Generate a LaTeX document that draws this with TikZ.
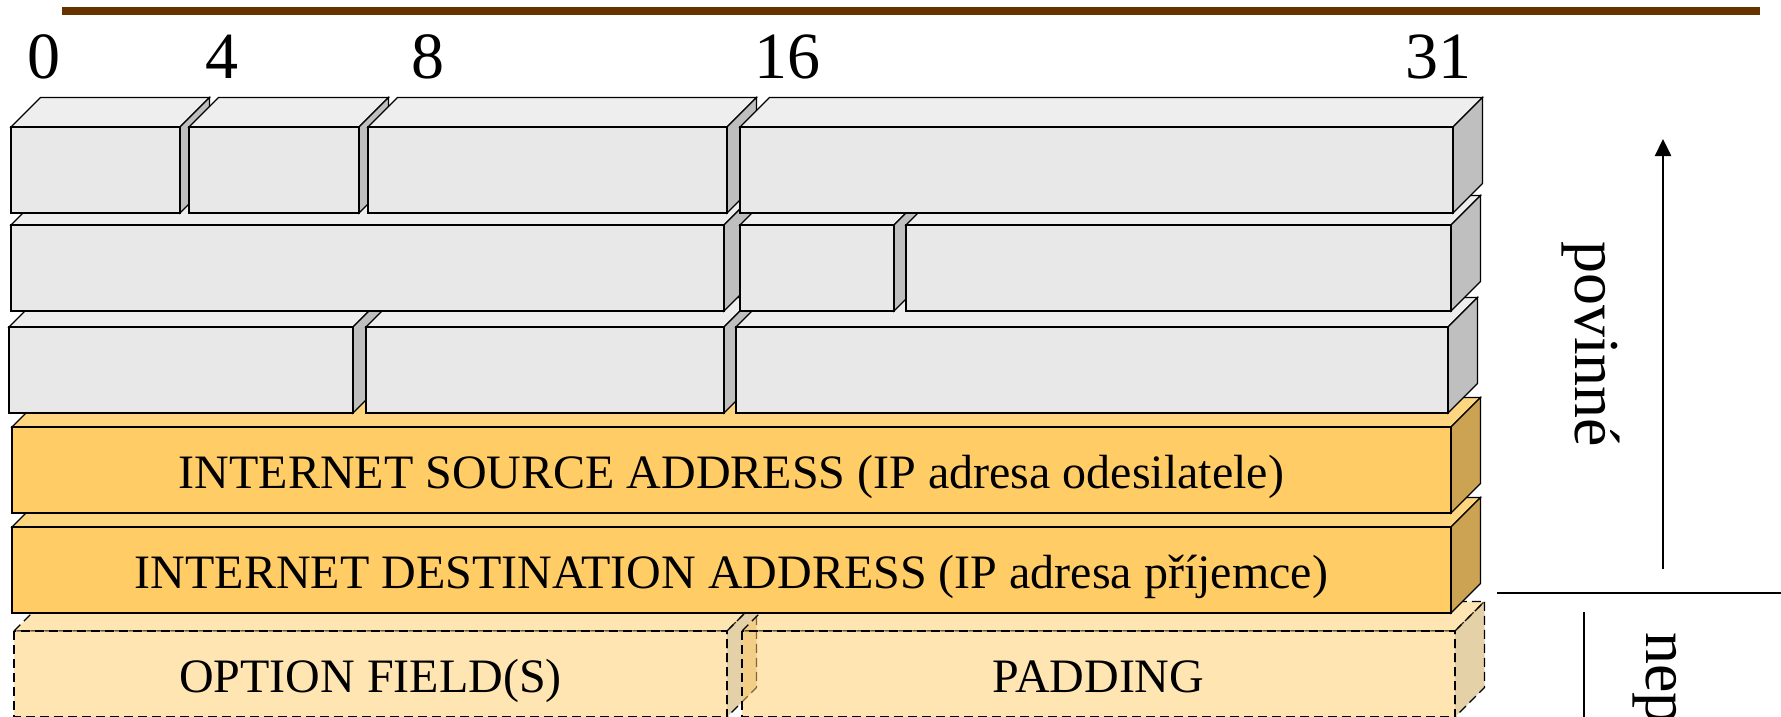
\documentclass[tikz,border=0pt]{standalone}
\usepackage{fontspec}
\setmainfont{Liberation Serif}
\usetikzlibrary{arrows.meta}

\definecolor{rulebrown}{HTML}{663300}
\definecolor{grayfront}{HTML}{E8E8E8}
\definecolor{graytop}{HTML}{EEEEEE}
\definecolor{grayside}{HTML}{BFBFBF}
\definecolor{orfront}{HTML}{FFCC66}
\definecolor{ortop}{HTML}{FFD680}
\definecolor{orside}{HTML}{CCA352}

% depth of the oblique projection (in px units)
\def\dd{29.5}

% \brick{name}{x1}{y1}{x2}{y2}{kind}{label}
% front face from (x1,y1) to (x2,y2), with top and right faces behind it
\newcommand\brick[7]{%
  \filldraw[#6top] (#2,#3) -- (#2+\dd,#3-\dd) -- (#4+\dd,#3-\dd) -- (#4,#3) -- cycle;
  \filldraw[#6side] (#4,#3) -- (#4+\dd,#3-\dd) -- (#4+\dd,#5-\dd) -- (#4,#5) -- cycle;
  \filldraw[#6front] (#2,#3) rectangle (#4,#5);
  \node[boxlabel] (#1) at ({(#2+#4)/2},#5-25) {#7};
}

\tikzset{
  outline/.style={draw=black, line width=1.3pt, line join=miter},
  gtop/.style={outline, fill=graytop},
  gside/.style={outline, fill=grayside},
  gfront/.style={outline, fill=grayfront},
  otop/.style={outline, fill=ortop},
  oside/.style={outline, fill=orside},
  ofront/.style={outline, fill=orfront},
  dashbox/.style={outline, dash pattern=on 9pt off 5pt, fill opacity=0.5},
  dtop/.style={dashbox, fill=orfront},
  dside/.style={dashbox, fill=orside},
  dfront/.style={dashbox, fill=orfront},
  boxlabel/.style={anchor=base, inner sep=0pt, font=\fontsize{48}{52}\selectfont},
  bitlabel/.style={anchor=base, inner sep=0pt, font=\fontsize{66}{70}\selectfont},
  sidelabel/.style={anchor=base west, rotate=-90, inner sep=0pt, font=\fontsize{64}{68}\selectfont},
}

\begin{document}
\begin{tikzpicture}[x=1pt, y=-1pt]
  \useasboundingbox (0,0) rectangle (1781,717);
  \clip (0,0) rectangle (1781,717);

  % brown title rule
  \coordinate (ruleL) at (62,11);
  \coordinate (ruleR) at (1760,11);
  \draw[rulebrown, line width=8pt] (ruleL) -- (ruleR);

  % bit positions
  \node[bitlabel] (b0)  at (44,78)   {0};
  \node[bitlabel] (b4)  at (222,78)  {4};
  \node[bitlabel] (b8)  at (428,78)  {8};
  \node[bitlabel] (b16) at (787,78)  {16};
  \node[bitlabel] (b31) at (1438,78) {31};

  % optional row (dashed, translucent)
  \brick{opt}{14}{631}{727}{717}{d}{OPTION FIELD(S)}
  \brick{pad}{742}{631}{1455}{717}{d}{PADDING}

  % addresses
  \brick{dst}{12}{527}{1451}{613}{o}{INTERNET DESTINATION ADDRESS (IP adresa příjemce)}
  \brick{src}{12}{427}{1451}{513}{o}{INTERNET SOURCE ADDRESS (IP adresa odesilatele)}

  % third header word
  \brick{r3a}{9}{327}{353}{413}{g}{}
  \brick{r3b}{366}{327}{724}{413}{g}{}
  \brick{r3c}{736}{327}{1448}{413}{g}{}

  % second header word
  \brick{r2a}{11}{225}{724}{311}{g}{}
  \brick{r2b}{740}{225}{894}{311}{g}{}
  \brick{r2c}{906}{225}{1451}{311}{g}{}

  % first header word
  \brick{r1a}{11}{127}{180}{213}{g}{}
  \brick{r1b}{189}{127}{359}{213}{g}{}
  \brick{r1c}{368}{127}{727}{213}{g}{}
  \brick{r1d}{740}{127}{1453}{213}{g}{}

  % mandatory / optional markers
  \coordinate (upFoot) at (1663,569);
  \coordinate (upTip) at (1663,139);
  \draw[line width=2.5pt, -{Triangle[length=17pt,width=16pt]}] (upFoot) -- (upTip);
  \node[sidelabel] (mand) at (1575,241) {povinné};

  \coordinate (sepL) at (1497,593);
  \coordinate (sepR) at (1781,593);
  \draw[line width=1.6pt] (sepL) -- (sepR);

  \coordinate (dnTop) at (1584,612);
  \coordinate (dnEnd) at (1584,725);
  \draw[line width=2.5pt] (dnTop) -- (dnEnd);
  \node[sidelabel] (opt) at (1646,632) {nepovinné};
\end{tikzpicture}
\end{document}
